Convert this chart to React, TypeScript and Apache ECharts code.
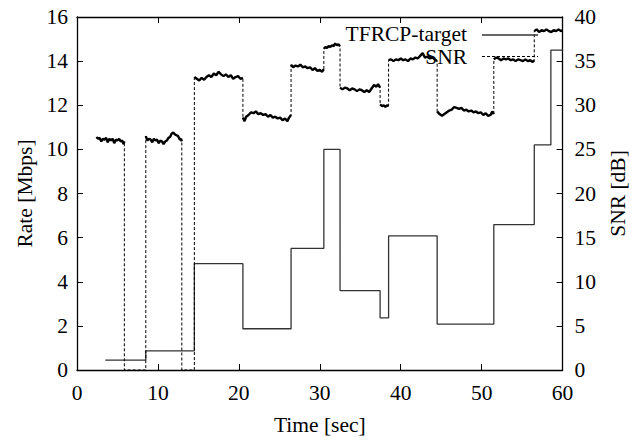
import React, { useEffect, useRef } from "react";
import * as echarts from "echarts";

// TFRCP-target rate steps (Mbps): value holds from time[i] until time[i+1]
const tfrcpTime = [3.5, 8.5, 14.5, 20.5, 26.45, 30.5, 32.5, 37.45, 38.5, 44.5, 51.5, 56.5, 58.55, 60];
const tfrcpRate = [0.45, 0.87, 4.82, 1.87, 5.51, 10.0, 3.6, 2.36, 6.08, 2.08, 6.59, 10.2, 14.5, 14.5];

// SNR (dB) measured traces, [time, dB]
const snrSeg1 = [[2.4,26.4],[2.6,26.2],[2.8,26.3],[3.0,25.9],[3.2,26.2],[3.4,26.1],[3.6,26.3],[3.8,25.8],[4.0,26.2],[4.2,26.0],[4.4,26.2],[4.6,25.7],[4.8,26.1],[5.0,26.0],[5.2,26.2],[5.4,25.9],[5.6,26.0],[5.75,25.6],[5.85,25.9]];
const snrSeg2 = [[8.5,26.5],[8.7,26.0],[8.9,26.2],[9.1,26.1],[9.3,25.8],[9.5,26.2],[9.7,26.0],[9.9,26.1],[10.1,25.7],[10.3,26.0],[10.5,25.9],[10.7,25.6],[10.9,25.9],[11.1,26.0],[11.3,26.3],[11.5,26.4],[11.7,26.8],[11.9,26.9],[12.1,26.7],[12.3,26.6],[12.5,26.5],[12.7,26.1],[12.85,26.2],[12.95,25.9]];
const snrSeg3 = [[14.5,33.2],[14.8,33.0],[15.1,32.8],[15.4,33.1],[15.7,32.9],[16.0,33.2],[16.3,33.4],[16.6,33.2],[16.9,33.6],[17.2,33.4],[17.5,33.8],[17.8,33.5],[18.1,33.3],[18.4,33.5],[18.7,33.2],[19.0,33.4],[19.3,33.0],[19.6,33.2],[19.9,33.3],[20.2,33.0],[20.5,33.1]];
const snrSeg4 = [[20.5,28.6],[20.7,28.2],[20.9,28.7],[21.2,28.9],[21.5,29.2],[21.8,29.1],[22.1,29.3],[22.4,29.0],[22.7,29.1],[23.0,28.9],[23.3,29.0],[23.6,28.7],[23.9,28.9],[24.2,28.6],[24.5,28.7],[24.8,28.5],[25.1,28.6],[25.4,28.3],[25.7,28.5],[26.0,28.2],[26.2,28.6],[26.45,28.9]];
const snrSeg5 = [[26.45,34.6],[26.7,34.3],[27.0,34.5],[27.3,34.4],[27.6,34.6],[27.9,34.3],[28.2,34.4],[28.5,34.2],[28.8,34.3],[29.1,34.0],[29.4,34.2],[29.7,33.9],[30.0,34.0],[30.3,33.8],[30.5,34.1]];
const snrSeg6 = [[30.5,36.4],[30.7,36.6],[30.9,36.5],[31.1,36.7],[31.3,36.6],[31.5,36.8],[31.7,36.7],[31.9,37.0],[32.1,36.8],[32.3,36.9],[32.5,36.7]];
const snrSeg7 = [[32.5,32.0],[32.8,31.8],[33.1,32.0],[33.4,31.9],[33.7,31.7],[34.0,31.9],[34.3,31.8],[34.6,31.6],[34.9,31.8],[35.2,31.7],[35.5,31.5],[35.8,31.7],[36.1,31.5],[36.4,31.9],[36.7,32.3],[37.0,32.1],[37.2,32.4],[37.45,32.0]];
const snrSeg8 = [[37.45,30.1],[37.7,29.9],[37.9,30.0],[38.1,29.8],[38.3,30.0],[38.5,29.9]];
const snrSeg9 = [[38.5,35.1],[38.8,35.2],[39.1,35.0],[39.4,35.2],[39.7,35.1],[40.0,35.3],[40.3,35.1],[40.6,35.2],[40.9,35.0],[41.2,35.3],[41.5,35.2],[41.8,35.4],[42.1,35.3],[42.4,35.6],[42.7,35.9],[43.0,35.4],[43.3,35.5],[43.6,35.3],[43.9,35.4],[44.2,35.2],[44.5,35.0]];
const snrSeg10 = [[44.5,29.3],[44.8,29.0],[45.1,28.8],[45.4,29.0],[45.7,29.2],[46.0,29.4],[46.3,29.5],[46.6,29.8],[46.9,29.7],[47.2,29.6],[47.5,29.7],[47.8,29.4],[48.1,29.5],[48.4,29.3],[48.7,29.4],[49.0,29.2],[49.3,29.3],[49.6,29.1],[49.9,29.2],[50.2,28.9],[50.5,29.1],[50.8,28.8],[51.1,28.9],[51.3,29.3],[51.5,29.0]];
const snrSeg11 = [[51.5,35.2],[51.8,35.4],[52.1,35.3],[52.4,35.1],[52.7,35.3],[53.0,35.2],[53.3,35.3],[53.6,35.1],[53.9,35.2],[54.2,35.0],[54.5,35.2],[54.8,35.1],[55.1,35.0],[55.4,35.2],[55.7,35.0],[56.0,35.1],[56.3,34.9],[56.5,35.1]];
const snrSeg12 = [[56.5,38.4],[56.8,38.6],[57.1,38.3],[57.4,38.5],[57.7,38.4],[58.0,38.6],[58.3,38.4],[58.6,38.3],[58.9,38.5],[59.2,38.4],[59.5,38.6],[59.8,38.4],[60.0,38.5]];
// periods with no link (SNR drops to 0)
const snrOutage1 = [[5.85,0],[8.5,0]];
const snrOutage2 = [[12.95,0],[14.5,0]];

const xTicks = { min: 0, max: 60, interval: 10 };
const rateTicks = { min: 0, max: 16, interval: 2 };
const snrTicks = { min: 0, max: 40, interval: 5 };

const FONT = '"Liberation Serif", "Times New Roman", serif';
const FS = 21.5;

export default function App() {
  const ref = useRef<HTMLDivElement>(null);
  useEffect(() => {
    if (!ref.current) return;
    const chart = echarts.init(ref.current, null, { renderer: "svg" });

    const segs = [snrSeg1, snrSeg2, snrSeg3, snrSeg4, snrSeg5, snrSeg6, snrSeg7, snrSeg8, snrSeg9, snrSeg10, snrSeg11, snrSeg12];
    const fullPath: any[] = [
      ...snrSeg1, ...snrOutage1, ...snrSeg2, ...snrOutage2,
      ...segs.slice(2).flat(),
    ];
    const band: any[] = [];
    segs.forEach((s) => {
      band.push(...s);
      band.push([s[s.length - 1][0], "-"]);
    });

    const axisLine = { show: true, onZero: false, lineStyle: { color: "#000", width: 1.3 } };
    const axisTick = { show: true, inside: true, length: 6, lineStyle: { color: "#000", width: 1 } };
    const label = { fontFamily: FONT, fontSize: FS, color: "#000", fontWeight: "normal" as const };

    chart.setOption({
      animation: false,
      grid: { left: 77, right: 69, top: 17, bottom: 68 },
      xAxis: [
        {
          type: "value", ...xTicks, position: "bottom",
          axisLine, axisTick, splitLine: { show: false },
          axisLabel: { ...label, margin: 12 },
          name: "Time [sec]", nameLocation: "middle", nameGap: 44,
          nameTextStyle: { ...label },
        },
        {
          type: "value", ...xTicks, position: "top",
          axisLine, axisTick, splitLine: { show: false },
          axisLabel: { show: false },
        },
      ],
      yAxis: [
        {
          type: "value", ...rateTicks, position: "left",
          axisLine, axisTick, splitLine: { show: false },
          axisLabel: { ...label, margin: 9 },
          name: "Rate [Mbps]", nameLocation: "middle", nameGap: 36, nameRotate: 90,
          nameTextStyle: { ...label },
        },
        {
          type: "value", ...snrTicks, position: "right",
          axisLine, axisTick, splitLine: { show: false },
          axisLabel: { ...label, margin: 12 },
          name: "SNR [dB]", nameLocation: "middle", nameGap: 40, nameRotate: 90,
          nameTextStyle: { ...label },
        },
      ],
      series: [
        {
          name: "TFRCP-target", type: "line", xAxisIndex: 0, yAxisIndex: 0,
          step: "end", symbol: "none",
          data: tfrcpTime.map((t, i) => [t, tfrcpRate[i]]),
          lineStyle: { color: "#333", width: 1.3 },
        },
        {
          name: "SNR", type: "line", xAxisIndex: 0, yAxisIndex: 1,
          symbol: "none", data: fullPath,
          lineStyle: { color: "#000", width: 1, type: [3, 2] },
        },
        {
          name: "SNR trace", type: "line", xAxisIndex: 0, yAxisIndex: 1,
          symbol: "none", data: band, connectNulls: false,
          lineStyle: { color: "#000", width: 2.4 },
        },
      ],
      graphic: [
        { type: "text", x: 467, y: 34, z: 100, style: { text: "TFRCP-target", font: `${FS}px ${FONT}`, fill: "#000", align: "right", verticalAlign: "middle" } },
        { type: "line", z: 100, shape: { x1: 482, y1: 35, x2: 538, y2: 35 }, style: { stroke: "#333", lineWidth: 1.3 } },
        { type: "text", x: 467, y: 56.5, z: 100, style: { text: "SNR", font: `${FS}px ${FONT}`, fill: "#000", align: "right", verticalAlign: "middle" } },
        { type: "line", z: 100, shape: { x1: 482, y1: 56.5, x2: 538, y2: 56.5 }, style: { stroke: "#000", lineWidth: 1, lineDash: [3, 2] } },
      ],
    });
    return () => chart.dispose();
  }, []);
  return <div ref={ref} style={{ width: 637, height: 441, position: "absolute", left: 0, top: 0, background: "#fff" }} />;
}
